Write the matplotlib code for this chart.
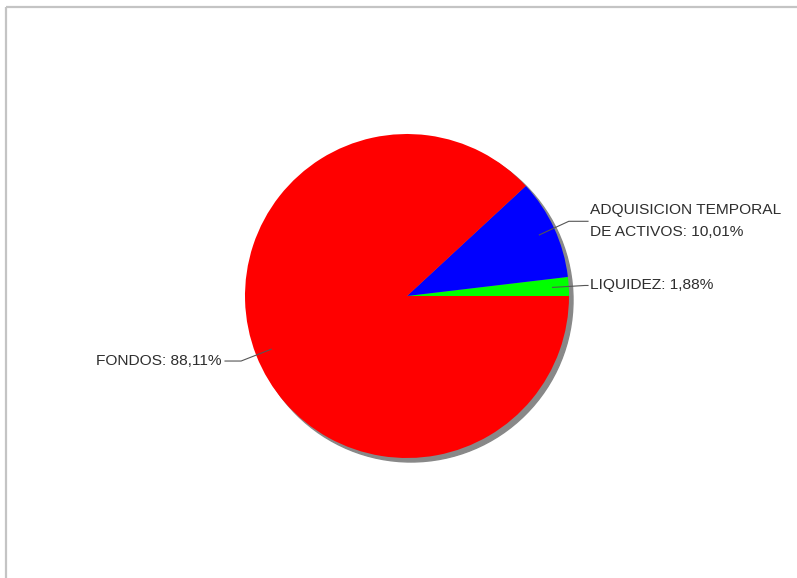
import numpy as np
import matplotlib
matplotlib.use("Agg")
import matplotlib.pyplot as plt
from matplotlib.patches import Circle

labels = ["LIQUIDEZ", "ADQUISICION TEMPORAL\nDE ACTIVOS", "FONDOS"]
values = [1.88, 10.01, 88.11]
colors = ["#00ff00", "#0000ff", "#ff0000"]

W, H = 797, 578
fig = plt.figure(figsize=(W / 100, H / 100), dpi=100)
ax = fig.add_axes([0, 0, 1, 1])
ax.set_xlim(0, W)
ax.set_ylim(0, H)
ax.axis("off")

# frame lines (top and left)
ax.plot([6.5, W], [H - 6.5, H - 6.5], color="#c4c4c4", lw=1.6, solid_capstyle="butt")
ax.plot([6.5, 6.5], [0, H - 6.5], color="#c4c4c4", lw=1.6, solid_capstyle="butt")

cx, cy, r = 407, H - 296, 162
ax.add_patch(Circle((cx + 4, cy - 4), r, color="#888888", zorder=1))
wedges, _ = ax.pie(values, colors=colors, startangle=0, counterclock=True,
                   center=(cx, cy), radius=r, frame=True,
                   wedgeprops=dict(linewidth=0, zorder=2))
ax.set_xlim(0, W)
ax.set_ylim(0, H)
ax.set_aspect("equal")
ax.axis("off")

font = dict(family="Liberation Sans", size=11.15, color="#2e2e2e")
for w, lab, v in zip(wedges, labels, values):
    ang = np.deg2rad((w.theta1 + w.theta2) / 2)
    ca, sa = np.cos(ang), np.sin(ang)
    p0 = (cx + 0.9 * r * ca, cy + 0.9 * r * sa)
    p1 = (cx + 1.1 * r * ca, cy + 1.1 * r * sa)
    txt = f"{lab}: {v:.2f}".replace(".", ",") + "%"
    if ca >= 0:
        p2 = (588, p1[1])
        ax.plot([p0[0], p1[0], p2[0]], [p0[1], p1[1], p2[1]], color="#555555", lw=0.8, zorder=3)
        ax.text(p2[0] + 2, p2[1], txt, ha="left", va="center", linespacing=1.72, **font)
    else:
        p2 = (225, p1[1])
        ax.plot([p0[0], p1[0], p2[0]], [p0[1], p1[1], p2[1]], color="#555555", lw=0.8, zorder=3)
        ax.text(p2[0] - 3, p2[1], txt, ha="right", va="center", linespacing=1.72, **font)

fig.savefig("out.png", dpi=100)
